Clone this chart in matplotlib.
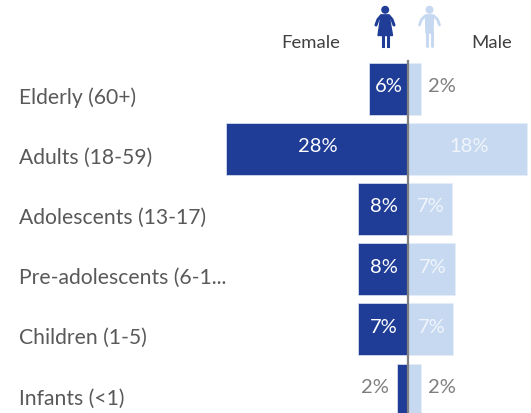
import matplotlib.pyplot as plt
from matplotlib.patches import Circle, Polygon

plt.rcParams['font.family'] = ['Lato', 'DejaVu Sans']

groups = ["Elderly (60+)", "Adults (18-59)", "Adolescents (13-17)",
          "Pre-adolescents (6-1...", "Children (1-5)", "Infants (<1)"]
female = [6.1, 28.0, 7.7, 7.7, 7.7, 1.8]
male = [2.0, 18.3, 6.7, 7.2, 6.9, 2.0]
female_lbl = ["6%", "28%", "8%", "8%", "7%", "2%"]
male_lbl = ["2%", "18%", "7%", "7%", "7%", "2%"]

dark = "#1f3c96"
light = "#c6d9f1"
W, H = 531, 414
x0 = 408.5
px_per = 6.5
y0 = 89.6
pitch = 60.2

fig = plt.figure(figsize=(W / 100, H / 100), dpi=100)
ax = fig.add_axes([0, 0, 1, 1])
ax.set_xlim(-x0 / px_per, (W - x0) / px_per)
ax.set_ylim((H - y0) / pitch, -y0 / pitch)
ax.axis("off")

rows = list(range(len(groups)))
ax.barh(rows, [-v for v in female], height=0.865, color=dark, edgecolor="#dfe5f3", linewidth=0.5)
ax.barh(rows, male, height=0.865, color=light, edgecolor="#e6eef9", linewidth=0.5)
ax.axvline(0, ymin=0, ymax=(H - 62) / H, color="#808080", linewidth=1.6)

for i in rows:
    ax.text(19 / px_per - x0 / px_per, i + 0.13, groups[i], fontsize=15.2, color="#595959", va="center", ha="left")
    if female[i] > 3:
        ax.text(-female[i] / 2 + 0.05, i - 0.05, female_lbl[i], fontsize=14.5, color="white", va="center", ha="center")
    else:
        ax.text(-female[i] - 3.3, i - 0.05, female_lbl[i], fontsize=14.5, color="#7f7f7f", va="center", ha="center")
    if male[i] > 3:
        ax.text(male[i] / 2 + 0.1, i - 0.05, male_lbl[i], fontsize=14.5, color="#f1f5fb", va="center", ha="center")
    else:
        ax.text(male[i] + 3.2, i - 0.05, male_lbl[i], fontsize=14.5, color="#7f7f7f", va="center", ha="center")

# header and icons, in pixels
ov = fig.add_axes([0, 0, 1, 1])
ov.set_xlim(0, W)
ov.set_ylim(H, 0)
ov.axis("off")
ov.patch.set_alpha(0)
ov.text(340, 43, "Female", fontsize=13.3, color="#404040", ha="right", va="center")
ov.text(471, 43, "Male", fontsize=13.3, color="#404040", ha="left", va="center")

# woman
ov.add_patch(Circle((385.2, 10.8), 3.3, color=dark))
ov.plot([376, 378, 381, 389, 392, 394], [26, 20.5, 17, 17, 20.5, 26], color=dark, lw=2.2, solid_capstyle="round")
ov.add_patch(Polygon([(381, 16), (389, 16), (392.5, 36.5), (378, 36.5)], color=dark))
ov.plot([382.8, 382.8], [36, 47], color=dark, lw=2.2)
ov.plot([387.6, 387.6], [36, 47], color=dark, lw=2.2)

# man
ov.add_patch(Circle((429.5, 10.8), 3.3, color=light))
ov.plot([419.5, 421.5, 425, 434, 437.5, 439.5], [26, 20.5, 17, 17, 20.5, 26], color=light, lw=2, solid_capstyle="round")
ov.add_patch(Polygon([(425.5, 16), (433.5, 16), (433, 34), (426, 34)], color=light))
ov.plot([427.3, 427.3], [33, 47], color=light, lw=2.2, solid_capstyle="round")
ov.plot([431.7, 431.7], [33, 47], color=light, lw=2.2, solid_capstyle="round")

fig.savefig("out.png", dpi=100)
